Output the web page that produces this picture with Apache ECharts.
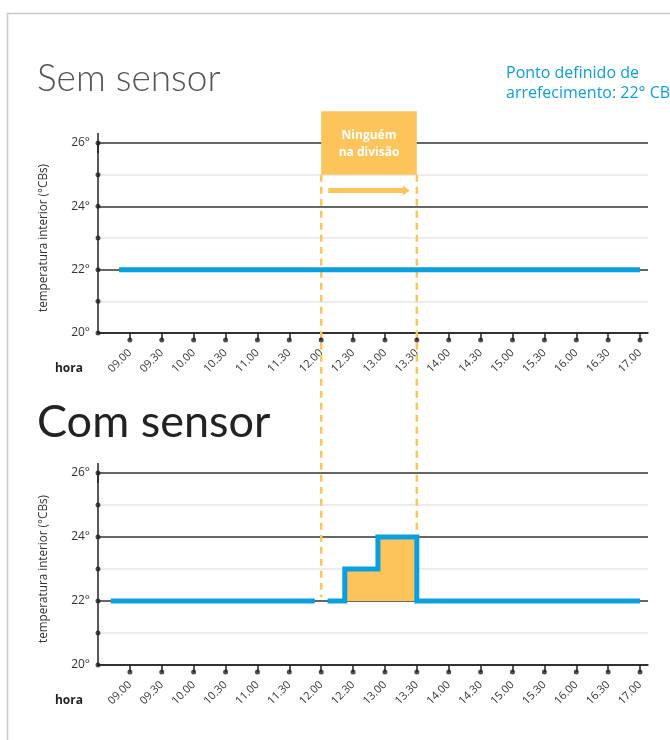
<!DOCTYPE html>
<html>
<head>
<meta charset="utf-8">
<script src="https://cdn.jsdelivr.net/npm/echarts@6/dist/echarts.min.js"></script>
<style>
html,body{margin:0;padding:0;background:#fff}
#chart{width:670px;height:740px}
</style>
</head>
<body>
<div id="chart"></div>
<script>
// dados
const xLabels = ['09.00','09.30','10.00','10.30','11.00','11.30','12.00','12.30','13.00','13.30','14.00','14.30','15.00','15.30','16.00','16.30','17.00'];
const yTicks = [20, 21, 22, 23, 24, 25, 26];
const yLabelVals = [20, 22, 24, 26];
// sem sensor: setpoint fixo
const semSensor = [[8.83, 22], [17, 22]];
// com sensor: antes e depois da saída
const comSensorA = [[8.7, 22], [11.9, 22]];
const comSensorB = [[12.1, 22], [12.37, 22], [12.37, 23], [12.89, 23], [12.89, 24], [13.5, 24], [13.5, 22], [17, 22]];
// periodo sem ninguém
const unoccupied = [12, 13.5];

const toHour = s => { const p = s.split('.'); return +p[0] + (+p[1]) / 60; };
const xTicks = xLabels.map(toHour);

const blue = '#0a9fe0';
const orange = '#fdc45c';
const dark = '#222';
const font = 'Open Sans';

function makeX(gi) {
  return {
    type: 'value', gridIndex: gi, min: 8.5, max: 17.125,
    axisLine: { show: true, onZero: false, lineStyle: { color: dark, width: 1.5 } },
    axisTick: { show: true, length: 7, customValues: xTicks, lineStyle: { color: dark, width: 1.5 } },
    axisLabel: {
      customValues: xTicks, rotate: 45, margin: 18, fontSize: 11, color: '#333', fontFamily: font,
      formatter: v => xLabels[xTicks.findIndex(t => Math.abs(t - v) < 1e-6)] || ''
    },
    splitLine: { show: false },
    name: 'hora', nameLocation: 'start', nameGap: 15,
    nameTextStyle: { fontWeight: 'bold', fontSize: 12, color: dark, fontFamily: font, verticalAlign: 'top', padding: [30, 0, 0, 0] }
  };
}

function makeY(gi) {
  return {
    type: 'value', gridIndex: gi, min: 20, max: 26, interval: 1,
    axisLine: { show: true, onZero: false, symbol: ['none', 'rect'], symbolSize: [1.5, 20], lineStyle: { color: dark, width: 1.5 } },
    axisTick: { show: false },
    axisLabel: { customValues: yLabelVals, formatter: '{value}°', fontSize: 12, color: '#333', margin: 8, padding: [0, 0, 8, 0], fontFamily: font },
    splitLine: { show: true, lineStyle: { color: ['#333', '#e6e6e6'], width: 1.5 } },
    name: 'temperatura interior (°CBs)', nameLocation: 'middle', nameGap: 48,
    nameTextStyle: { fontSize: 11.7, color: '#333', fontFamily: font }
  };
}

const lineStyle = { color: blue, width: 5, cap: 'butt', join: 'miter' };

function dots(gi) {
  return [
    { type: 'scatter', xAxisIndex: gi, yAxisIndex: gi, data: yTicks.map(v => [8.5, v]), symbolSize: 5,
      itemStyle: { color: dark }, clip: false, silent: true, z: 5 },
    { type: 'scatter', xAxisIndex: gi, yAxisIndex: gi, data: xTicks.map(v => [v, 20]), symbolSize: 5,
      symbolOffset: [0, 7], itemStyle: { color: dark }, clip: false, silent: true, z: 5 }
  ];
}

const chart = echarts.init(document.getElementById('chart'));
chart.setOption({
  animation: false,
  grid: [
    { left: 98, right: 22, top: 143, bottom: 407 },
    { left: 98, right: 22, top: 473, bottom: 75 }
  ],
  xAxis: [makeX(0), makeX(1)],
  yAxis: [makeY(0), makeY(1)],
  series: [
    { type: 'line', xAxisIndex: 0, yAxisIndex: 0, data: semSensor, symbol: 'none', lineStyle, z: 3 },
    { type: 'line', xAxisIndex: 1, yAxisIndex: 1, data: comSensorA, symbol: 'none', lineStyle, z: 3 },
    { type: 'line', xAxisIndex: 1, yAxisIndex: 1, data: comSensorB, symbol: 'none', lineStyle, z: 3,
      areaStyle: { color: orange, opacity: 1, origin: 22 } },
    ...dots(0), ...dots(1)
  ]
});

// anotações posicionadas pelas escalas
const px = (i, x, y) => chart.convertToPixel({ xAxisIndex: i, yAxisIndex: i }, [x, y]);
const boxTL = px(0, unoccupied[0], 27);
const boxBR = px(0, unoccupied[1], 25);
const dashTop = boxBR[1];
const dashBot = px(1, unoccupied[0], 22.12)[1];
const arrA = px(0, unoccupied[0] + 0.11, 24.5);
const arrB = px(0, unoccupied[1] - 0.11, 24.5);

const graphics = [
  { type: 'rect', shape: { x: 7.5, y: 13.5, width: 700, height: 760 }, style: { fill: 'none', stroke: '#c8c8c8', lineWidth: 1.5 }, silent: true },
  { type: 'text', x: 37, y: 79, style: { text: 'Sem sensor', font: '300 37px Lato', fill: '#555', verticalAlign: 'middle' } },
  { type: 'text', x: 37, y: 422, style: { text: 'Com sensor', font: '45px Lato', fill: '#222', verticalAlign: 'middle' } },
  { type: 'text', x: 506, y: 63, style: { text: 'Ponto definido de\narrefecimento: 22° CBs', font: '16px "Open Sans"', lineHeight: 20, fill: blue } },
  { type: 'rect', shape: { x: boxTL[0], y: boxTL[1], width: boxBR[0] - boxTL[0], height: boxBR[1] - boxTL[1] }, style: { fill: orange }, z: 10 },
  { type: 'text', x: (boxTL[0] + boxBR[0]) / 2, y: (boxTL[1] + boxBR[1]) / 2 + 1,
    style: { text: 'Ninguém\nna divisão', font: 'bold 12px "Open Sans"', lineHeight: 17, fill: '#fff', align: 'center', verticalAlign: 'middle' }, z: 11 }
];
unoccupied.forEach(v => {
  const x = px(0, v, 25)[0];
  graphics.push({ type: 'line', shape: { x1: x, y1: dashTop, x2: x, y2: dashBot },
    style: { stroke: orange, lineWidth: 2.5, lineDash: [7, 5] }, z: 1 });
});
graphics.push(
  { type: 'line', shape: { x1: arrA[0], y1: arrA[1], x2: arrB[0] - 6, y2: arrB[1] }, style: { stroke: orange, lineWidth: 5 }, z: 10 },
  { type: 'polygon', shape: { points: [[arrB[0] - 7, arrB[1] - 5], [arrB[0], arrB[1]], [arrB[0] - 7, arrB[1] + 5]] }, style: { fill: orange }, z: 10 }
);
chart.setOption({ graphic: graphics });
</script>
</body>
</html>
